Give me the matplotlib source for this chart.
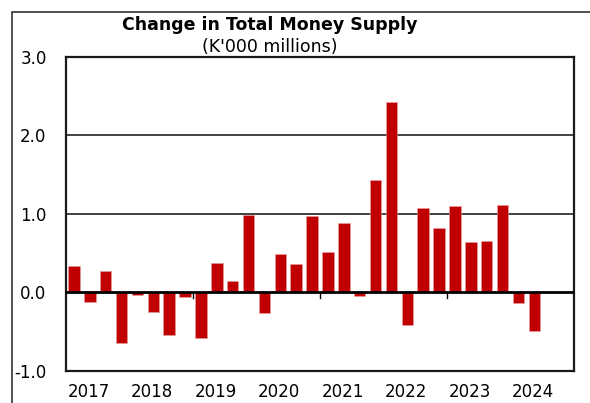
import matplotlib.pyplot as plt
import numpy as np
from matplotlib.patches import Rectangle
from matplotlib.transforms import blended_transform_factory

plt.rcParams['font.family'] = ['DejaVu Sans']
plt.rcParams['axes.unicode_minus'] = False

# quarterly change, 2017Q1 .. 2024Q2
change = [0.34, -0.12, 0.27, -0.64,
          -0.03, -0.25, -0.54, -0.06,
          -0.58, 0.38, 0.15, 0.99,
          -0.26, 0.49, 0.36, 0.98,
          0.52, 0.88, -0.04, 1.43,
          2.43, -0.41, 1.08, 0.82,
          1.10, 0.64, 0.655, 1.12,
          -0.13, -0.49]
years = ['2017', '2018', '2019', '2020', '2021', '2022', '2023', '2024']
yticks = [-1.0, 0.0, 1.0, 2.0, 3.0]

fig = plt.figure(figsize=(5.9, 4.03), dpi=100)
ax = fig.add_axes([0.1119, 0.0794, 0.861, 0.7792])

x = np.arange(len(change))
ax.bar(x, change, width=0.72, color='#c00000', edgecolor='#e8a0a0', linewidth=0.4, zorder=3)

ax.set_xlim(-0.5, 31.5)
ax.set_ylim(-1.0, 3.0)

ax.set_yticks(yticks)
ax.set_yticklabels(['%.1f' % v for v in yticks], fontsize=12)
ax.tick_params(axis='y', length=0, pad=14)
ax.set_xticks([])

for v in [1.0, 2.0]:
    ax.axhline(v, color='#333333', lw=1.3, zorder=1)
ax.axhline(0, color='black', lw=2.0, zorder=4)

# small markers at every second year boundary on the zero line
for b in [7.5, 15.5, 23.5]:
    ax.plot([b, b], [0, -0.065], color='black', lw=1.0, zorder=4)

trans = blended_transform_factory(ax.transData, ax.transAxes)
for k, yr in enumerate(years):
    ax.text(0.92 + 4 * k, -0.067, yr, transform=trans, ha='center', va='center', fontsize=12)

for s in ax.spines.values():
    s.set_color('#1a1a1a')
    s.set_linewidth(1.6)

fig.text(0.4576, 0.938, 'Change in Total Money Supply', ha='center', va='center',
         fontsize=12.5, fontweight='bold')
fig.text(0.4576, 0.883, "(K'000 millions)", ha='center', va='center', fontsize=12.5)

# outer frame
fig.patches.append(Rectangle((12 / 590, -0.1), 1.2, 0.97 + 0.1, transform=fig.transFigure,
                             fill=False, edgecolor='#333333', lw=1.2))

fig.savefig('out.png', dpi=100)
